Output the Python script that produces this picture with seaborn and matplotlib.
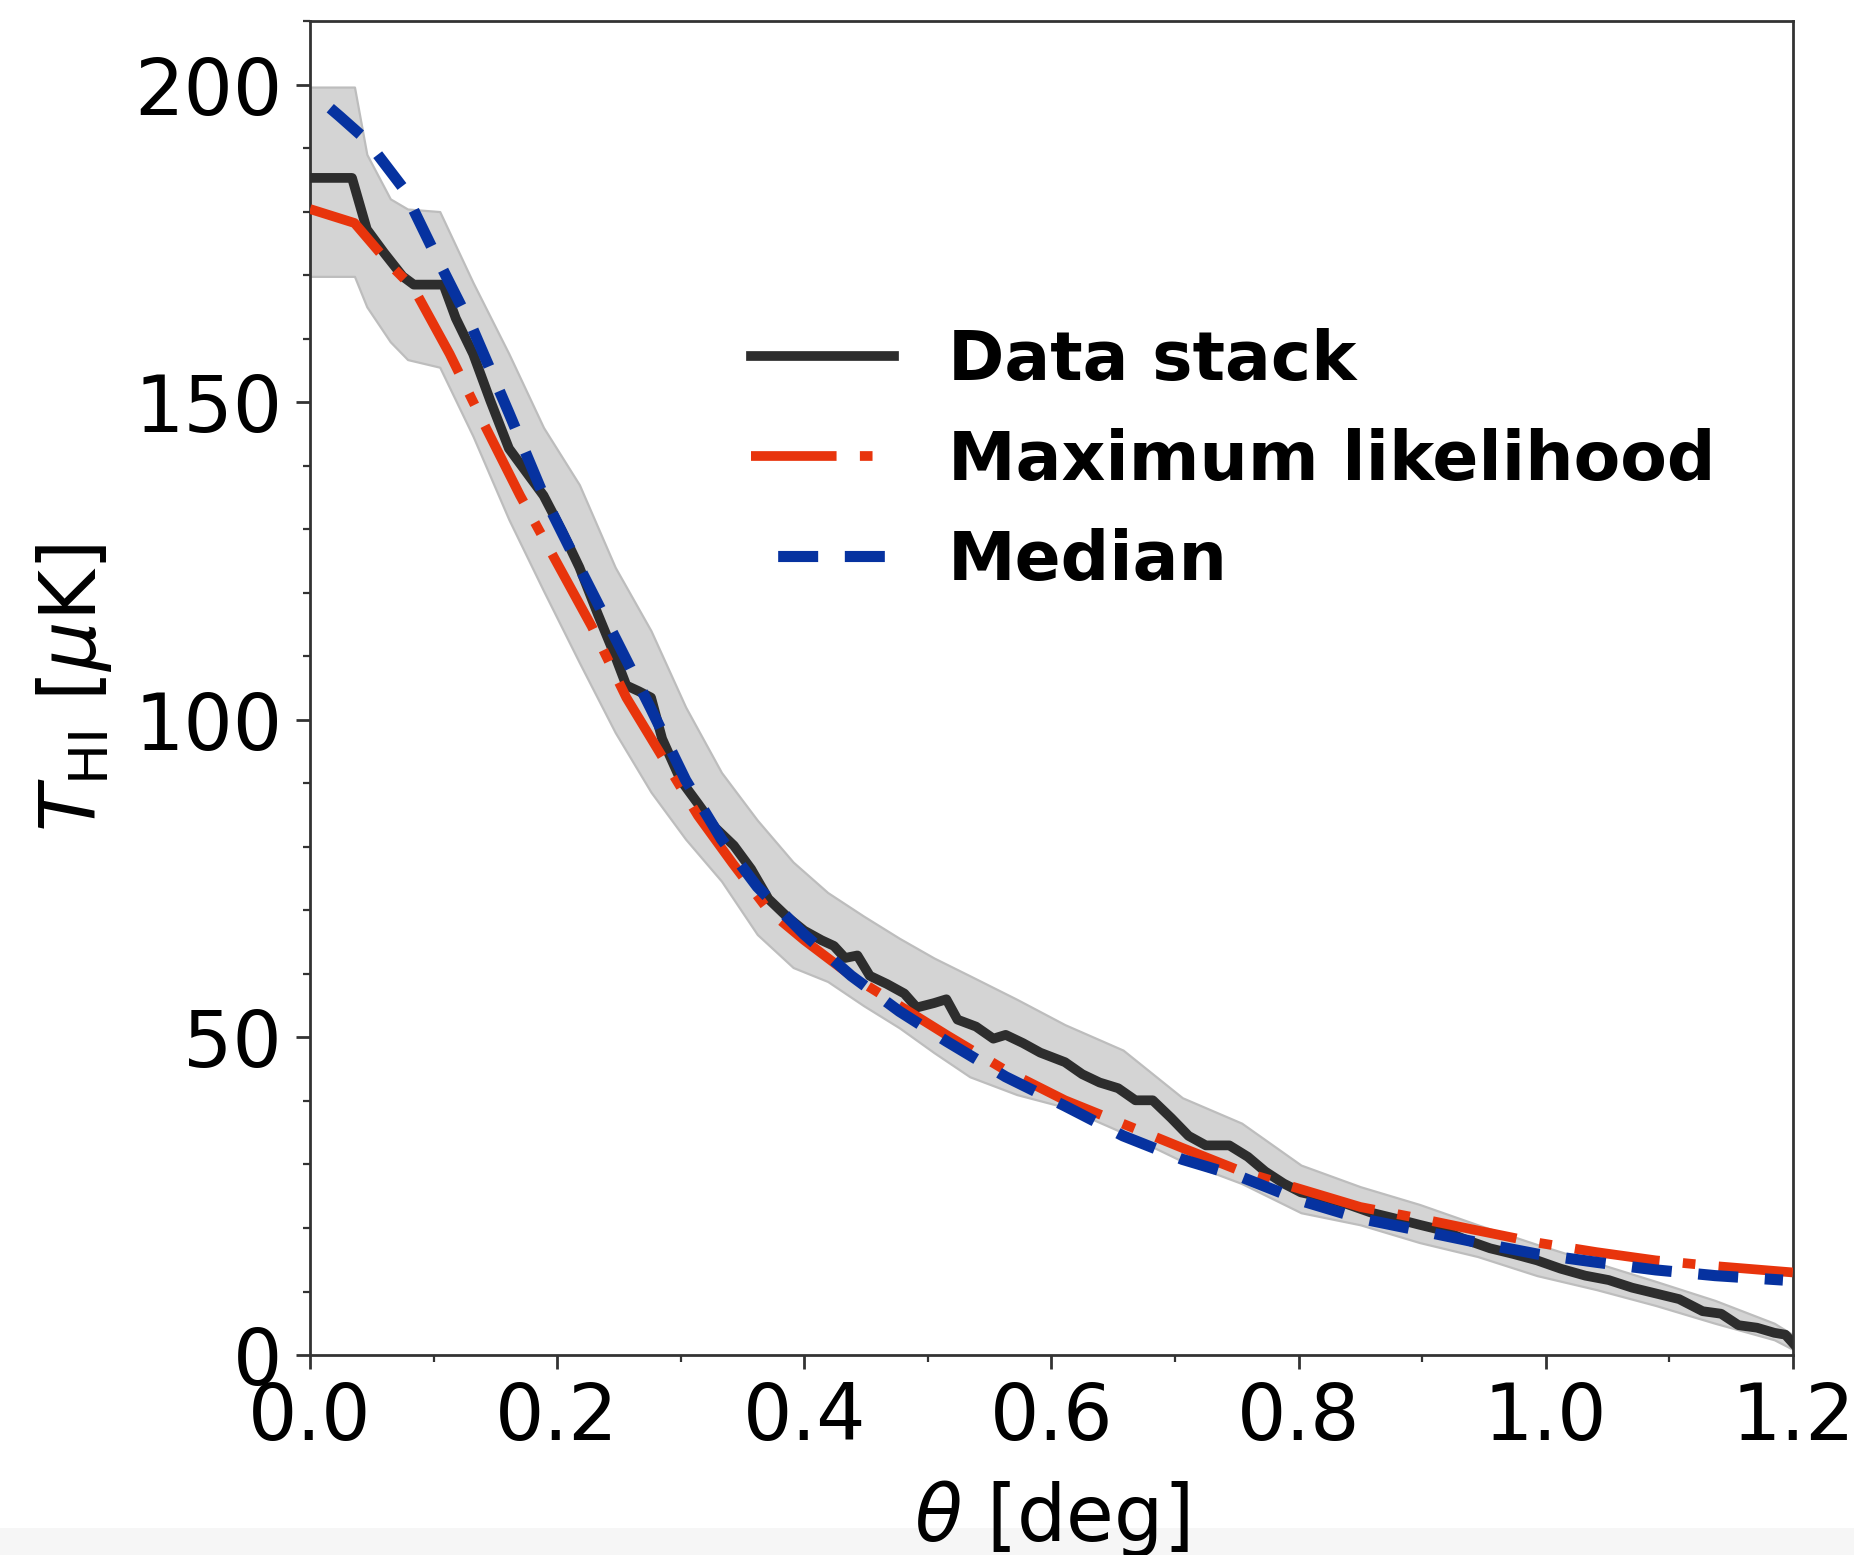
import numpy as np
import pandas as pd
import seaborn as sns
import matplotlib
matplotlib.use("Agg")
import matplotlib.pyplot as plt
from matplotlib.patches import Rectangle
from matplotlib.ticker import MultipleLocator

# ------------------------------------------------------------
# HI temperature profile of the stack vs. angular distance
# values
# ------------------------------------------------------------

# data stack (black solid)
theta_stack = [0.000, 0.034, 0.046, 0.060, 0.075, 0.084, 0.108, 0.118, 0.132, 0.146,
               0.161, 0.175, 0.189, 0.204, 0.218, 0.233, 0.247, 0.256, 0.266, 0.276,
               0.285, 0.300, 0.314, 0.328, 0.343, 0.357, 0.371, 0.386, 0.400, 0.414,
               0.424, 0.433, 0.443, 0.453, 0.467, 0.481, 0.491, 0.505, 0.515, 0.524,
               0.539, 0.553, 0.563, 0.577, 0.591, 0.611, 0.625, 0.639, 0.654, 0.668,
               0.682, 0.697, 0.711, 0.725, 0.744, 0.759, 0.773, 0.788, 0.802, 0.821,
               0.840, 0.859, 0.878, 0.898, 0.917, 0.936, 0.955, 0.974, 0.993, 1.012,
               1.032, 1.051, 1.070, 1.089, 1.108, 1.127, 1.142, 1.156, 1.171, 1.185,
               1.194, 1.200]
t_stack = [185.3, 185.3, 177.2, 173.5, 169.8, 168.5, 168.5, 163.2, 157.6, 150.2,
           142.7, 139.0, 135.3, 129.7, 124.0, 116.6, 110.0, 105.4, 104.5, 103.5,
           97.0, 90.5, 86.8, 83.0, 80.2, 76.5, 71.8, 69.0, 66.8, 65.3,
           64.4, 62.5, 62.9, 59.7, 58.4, 56.9, 54.7, 55.4, 56.0, 52.8,
           51.7, 49.8, 50.4, 49.1, 47.6, 46.1, 44.2, 42.9, 42.0, 40.1,
           40.1, 37.3, 34.5, 33.0, 33.0, 31.2, 28.9, 27.0, 25.6, 24.8,
           23.7, 22.4, 21.5, 20.5, 19.6, 18.1, 16.8, 15.9, 14.9, 13.6,
           12.5, 11.8, 10.6, 9.7, 8.8, 6.9, 6.5, 4.7, 4.3, 3.5,
           3.2, 1.9]

# uncertainty band around the stack (grey)
theta_band = [0.000, 0.036, 0.046, 0.065, 0.079, 0.105, 0.132, 0.161, 0.189, 0.218,
              0.247, 0.276, 0.304, 0.333, 0.362, 0.391, 0.419, 0.448, 0.477, 0.505,
              0.534, 0.572, 0.611, 0.658, 0.706, 0.754, 0.802, 0.850, 0.898, 0.945,
              0.993, 1.041, 1.089, 1.137, 1.185, 1.200]
band_upper = [199.6, 199.6, 189.0, 182.0, 180.4, 180.0, 168.8, 157.6, 146.0, 137.0,
              124.0, 114.0, 102.0, 91.7, 84.2, 77.6, 72.8, 69.1, 65.6, 62.5,
              59.7, 56.0, 52.0, 48.0, 40.5, 36.5, 29.9, 26.5, 23.7, 20.5,
              17.4, 14.5, 11.6, 8.6, 5.0, 3.2]
band_lower = [169.8, 169.8, 165.0, 159.5, 156.7, 155.5, 144.6, 131.5, 120.3, 109.0,
              98.0, 88.6, 81.2, 74.6, 66.2, 61.0, 58.8, 55.0, 51.5, 47.6,
              43.8, 41.0, 39.0, 35.0, 30.5, 27.0, 22.4, 20.5, 17.7, 15.5,
              12.5, 10.3, 7.8, 5.0, 2.4, 0.9]

# maximum likelihood profile (red dash-dot)
theta_ml = [0.000, 0.036, 0.065, 0.084, 0.113, 0.141, 0.170, 0.199, 0.228, 0.256,
            0.285, 0.314, 0.342, 0.371, 0.400, 0.438, 0.477, 0.515, 0.563, 0.611,
            0.658, 0.706, 0.754, 0.802, 0.850, 0.898, 0.945, 0.993, 1.041, 1.089,
            1.137, 1.200]
t_ml = [180.4, 178.2, 171.6, 167.9, 157.6, 146.5, 135.3, 125.0, 114.7, 103.5,
        94.2, 84.9, 77.4, 70.0, 65.3, 59.7, 55.0, 50.4, 44.8, 40.1,
        36.4, 32.6, 28.9, 26.1, 23.3, 21.5, 19.6, 17.7, 16.2, 14.9,
        14.0, 13.0]

# median profile (blue dashed)
theta_med = [0.000, 0.024, 0.046, 0.075, 0.103, 0.132, 0.161, 0.189, 0.218, 0.247,
             0.276, 0.304, 0.333, 0.362, 0.400, 0.438, 0.477, 0.515, 0.563, 0.611,
             0.658, 0.706, 0.754, 0.802, 0.850, 0.898, 0.945, 0.993, 1.041, 1.089,
             1.137, 1.192]
t_med = [199.0, 195.0, 191.2, 183.8, 172.6, 161.4, 148.3, 135.3, 124.0, 112.9,
         101.7, 90.5, 81.2, 73.7, 66.2, 59.7, 54.1, 49.4, 43.8, 39.2,
         34.5, 30.8, 28.0, 24.3, 21.5, 19.6, 17.7, 15.9, 14.6, 13.4,
         12.5, 11.8]

series_labels = ["Data stack", "Maximum likelihood", "Median"]

C_STACK = "#2d2d2d"
C_ML = "#e8340c"
C_MED = "#0632a0"
C_BAND = "#d4d4d4"

sns.set_theme(style="ticks")
plt.rcParams["font.family"] = ["DejaVu Sans"]
plt.rcParams["mathtext.fontset"] = "dejavusans"
plt.rcParams["axes.edgecolor"] = "#333333"
plt.rcParams["axes.linewidth"] = 1.0
plt.rcParams["text.color"] = "black"
plt.rcParams["axes.labelcolor"] = "black"
plt.rcParams["xtick.labelcolor"] = "black"
plt.rcParams["ytick.labelcolor"] = "black"


def main():
    df_stack = pd.DataFrame({"theta": theta_stack, "T": t_stack})
    df_ml = pd.DataFrame({"theta": theta_ml, "T": t_ml})
    df_med = pd.DataFrame({"theta": theta_med, "T": t_med})

    fig = plt.figure(figsize=(9.27, 7.775), dpi=200)
    ax = fig.add_axes([0.1672, 0.1286, 0.967 - 0.1672, 0.9865 - 0.1286])

    # light strip at the very bottom of the screenshot
    fig.patches.append(
        Rectangle((0, 0), 1, 0.0174, transform=fig.transFigure,
                  facecolor="#f6f6f6", edgecolor="none", zorder=-5)
    )

    ax.fill_between(theta_band, band_lower, band_upper,
                    facecolor=C_BAND, edgecolor="#bdbdbd", linewidth=0.8, zorder=1)

    sns.lineplot(data=df_stack, x="theta", y="T", ax=ax, color=C_STACK,
                 linewidth=3.5, label=series_labels[0], errorbar=None,
                 solid_capstyle="projecting", zorder=3)
    sns.lineplot(data=df_ml, x="theta", y="T", ax=ax, color=C_ML,
                 linewidth=3.5, linestyle=(0, (8.8, 2.4, 1.3, 2.4)),
                 label=series_labels[1], errorbar=None, zorder=4)
    sns.lineplot(data=df_med, x="theta", y="T", ax=ax, color=C_MED,
                 linewidth=4.0, linestyle=(3.6, (3.6, 2.4)),
                 label=series_labels[2], errorbar=None, zorder=5)

    ax.set_xlim(0, 1.2)
    ax.set_ylim(0, 210)
    ax.xaxis.set_major_locator(MultipleLocator(0.2))
    ax.xaxis.set_minor_locator(MultipleLocator(0.1))
    ax.yaxis.set_major_locator(MultipleLocator(50))
    ax.yaxis.set_minor_locator(MultipleLocator(10))

    ax.tick_params(axis="both", which="major", direction="out", length=5,
                   width=1.0, labelsize=28, color="#333333", pad=4,
                   labelcolor="black")
    ax.tick_params(axis="both", which="minor", direction="out", length=2.5,
                   width=0.8, color="#333333")
    ax.tick_params(axis="y", which="major", pad=5)

    ax.set_xlabel(r"$\theta$ [deg]", fontsize=28, color="black")
    ax.set_ylabel(r"$T_{\rm HI}$ [$\mu$K]", fontsize=28, color="black")
    ax.xaxis.set_label_coords(0.5, -0.092)
    ax.yaxis.set_label_coords(-0.132, 0.5)

    for side in ["top", "right", "left", "bottom"]:
        ax.spines[side].set_visible(True)

    leg = ax.legend(loc="center left", bbox_to_anchor=(0.256, 0.670),
                    frameon=False, prop={"size": 24.5, "weight": "bold"},
                    handlelength=2.1, handletextpad=0.8, labelspacing=0.5)
    for txt in leg.get_texts():
        txt.set_color("black")

    fig.savefig("out.png", dpi=200)
    plt.close(fig)


if __name__ == "__main__":
    main()
